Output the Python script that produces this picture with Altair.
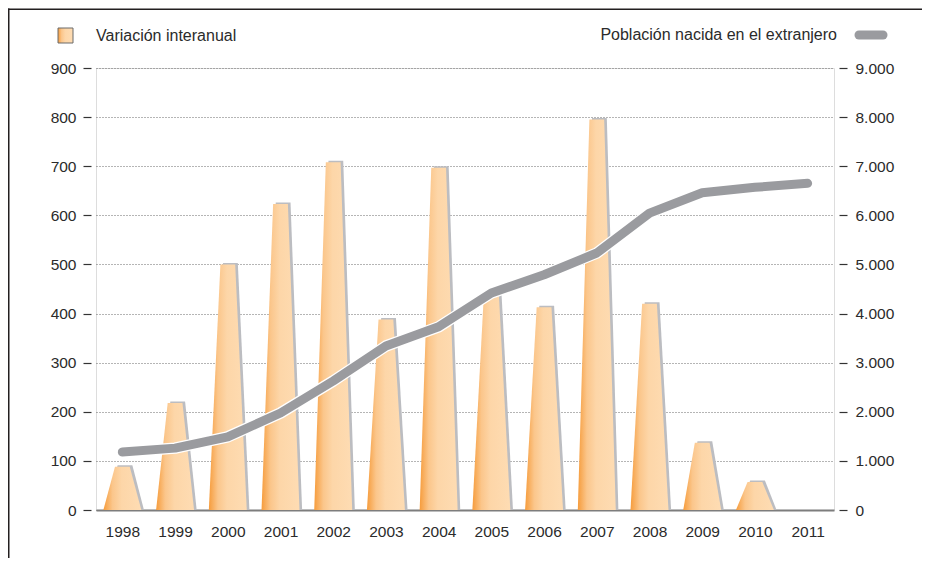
import altair as alt
import pandas as pd

# ---- data ----
years = [1998, 1999, 2000, 2001, 2002, 2003, 2004, 2005, 2006, 2007, 2008, 2009, 2010, 2011]
variacion = [88, 218, 500, 623, 708, 388, 697, 443, 413, 795, 420, 137, 57, 0]
poblacion = [1180, 1260, 1490, 1975, 2627, 3339, 3730, 4418, 4790, 5233, 6045, 6460, 6570, 6652]
left_ticks = [0, 100, 200, 300, 400, 500, 600, 700, 800, 900]
right_ticks = [0, 1000, 2000, 3000, 4000, 5000, 6000, 7000, 8000, 9000]
label_bars = "Variación interanual"
label_line = "Población nacida en el extranjero"

df = pd.DataFrame({"year": years, "var": variacion, "pob": poblacion})
one = pd.DataFrame({"k": [0]})

FONT = "Liberation Sans"
TXT = "#2b2b2b"
W, H = 738, 442

grad = alt.Gradient(
    gradient="linear",
    stops=[
        alt.GradientStop(color="#f69c3c", offset=0),
        alt.GradientStop(color="#fbc68b", offset=0.24),
        alt.GradientStop(color="#fdd6a8", offset=0.48),
        alt.GradientStop(color="#fedcb3", offset=1),
    ],
    x1=0, x2=1, y1=0, y2=0,
)

xscale = alt.Scale(domain=[1997.5, 2011.5], nice=False, zero=False)
xaxis = alt.Axis(
    values=years, format="d", title=None, ticks=False, grid=False,
    domain=True, domainColor="#7d7d7d", domainWidth=2,
    labelFontSize=15.5, labelColor=TXT, labelPadding=14,
    labelOverlap=False, labelFlush=False, labelFont=FONT,
)

def X(field):
    return alt.X(field, type="quantitative", scale=xscale, axis=xaxis)

left_axis = alt.Axis(
    values=left_ticks, title=None, orient="left", domain=False,
    tickSize=8, tickColor="#333333", tickWidth=1.2, offset=5,
    labelFontSize=15.5, labelColor=TXT, labelPadding=7, labelFont=FONT,
    grid=True, gridDash=[1, 2], gridColor="#6a6a6a", gridWidth=1,
)
right_axis = alt.Axis(
    values=right_ticks, title=None, orient="right", domain=False,
    tickSize=8, tickColor="#333333", tickWidth=1.2, offset=5,
    labelFontSize=15.5, labelColor=TXT, labelPadding=8, labelFont=FONT,
    grid=False,
    labelExpr="replace(format(datum.value, ','), ',', '.')",
)
lscale = alt.Scale(domain=[0, 900], nice=False)
rscale = alt.Scale(domain=[0, 9000], nice=False)

shapes = (
    alt.Chart(df)
    .transform_calculate(off="[-0.36, -0.14, 0.14, 0.36]")
    .transform_flatten(["off"])
    .transform_calculate(
        xb="datum.year + datum.off",
        h="abs(datum.off) < 0.2 ? datum.var : 0",
        xs="datum.year + datum.off + 0.05",
        hs="abs(datum.off) < 0.2 ? (datum.var > 0 ? datum.var + 3 : 0) : 0",
    )
)

shadow = shapes.mark_area(color="#bcbdc1", interpolate="linear").encode(
    x=X("xs"),
    y=alt.Y("hs:Q", scale=lscale, axis=left_axis, stack=None),
    detail="year:N",
)
bars = shapes.mark_area(fill=grad, interpolate="linear").encode(
    x=X("xb"),
    y=alt.Y("h:Q", scale=lscale, axis=left_axis, stack=None),
    detail="year:N",
)

line_base = alt.Chart(df)
halo = line_base.mark_line(color="white", strokeWidth=11.5, strokeCap="round", strokeJoin="round").encode(
    x=X("year"),
    y=alt.Y("pob:Q", scale=rscale, axis=right_axis),
)
line = line_base.mark_line(color="#9a9b9f", strokeWidth=9, strokeCap="round", strokeJoin="round").encode(
    x=X("year"),
    y=alt.Y("pob:Q", scale=rscale, axis=right_axis),
)

left_layer = alt.layer(shadow, bars)
right_layer = alt.layer(halo, line)

# legend items
sw1 = alt.Chart(one).mark_rect(fill=grad, stroke="#6b6b6b", strokeWidth=1).encode(
    x=alt.value(-38), x2=alt.value(-23), y=alt.value(-40), y2=alt.value(-25)
)
t1 = alt.Chart(one).mark_text(align="left", baseline="middle", fontSize=16, font=FONT, color=TXT).encode(
    x=alt.value(0), y=alt.value(-32), text=alt.value(label_bars)
)
t2 = alt.Chart(one).mark_text(align="right", baseline="middle", fontSize=16, font=FONT, color=TXT).encode(
    x=alt.value(741), y=alt.value(-33), text=alt.value(label_line)
)
sw2 = alt.Chart(one).mark_rule(color="#9a9b9f", strokeWidth=9, strokeCap="round").encode(
    x=alt.value(763), x2=alt.value(787), y=alt.value(-33)
)
# outer frame: only its top and left edges are visible in the reference
frame_top = alt.Chart(one).mark_rect(fill="#231f20", strokeWidth=0).encode(
    x=alt.value(-88), x2=alt.value(826), y=alt.value(-59.5), y2=alt.value(-58)
)
frame_left = alt.Chart(one).mark_rect(fill="#231f20", strokeWidth=0).encode(
    x=alt.value(-88), x2=alt.value(-86.5), y=alt.value(-59.5), y2=alt.value(490)
)

chart = (
    alt.layer(
        alt.layer(left_layer, right_layer).resolve_scale(y="independent"),
        sw1, t1, t2, sw2, frame_top, frame_left,
    )
    .properties(
        width=W, height=H,
        autosize=alt.AutoSizeParams(type="none"),
        padding={"left": 88, "top": 60, "right": 88, "bottom": 48},
        background="white",
    )
    .configure_view(fill="#f1f2f4", stroke=None)
    .configure(font=FONT)
)

chart.save("out.html", embed_options={"renderer": "svg", "actions": False})
